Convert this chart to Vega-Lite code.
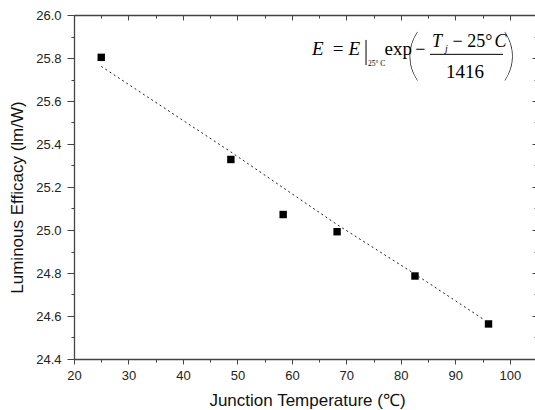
{
  "$schema": "https://vega.github.io/schema/vega-lite/v6.json",
  "width": 463,
  "height": 344,
  "autosize": {"type": "none"},
  "padding": {"left": 74, "top": 15, "right": 0, "bottom": 51},
  "background": "white",
  "datasets": {
    "measured": [
      {"T": 25, "E": 25.803},
      {"T": 48.8, "E": 25.328},
      {"T": 58.4, "E": 25.072},
      {"T": 68.3, "E": 24.992},
      {"T": 82.6, "E": 24.786},
      {"T": 96.1, "E": 24.563}
    ],
    "fit": [
      {"T": 25, "E": 25.761},
      {"T": 48.8, "E": 25.363},
      {"T": 68.3, "E": 25.025},
      {"T": 82.6, "E": 24.795},
      {"T": 95.1, "E": 24.586}
    ],
    "one": [{"k": 1}]
  },
  "config": {
    "view": {"stroke": null},
    "axis": {
      "domainColor": "#444",
      "domainWidth": 1.3,
      "tickColor": "#444",
      "tickWidth": 1,
      "labelFont": "Liberation Sans",
      "labelFontSize": 13,
      "labelColor": "#222",
      "labelFlush": false,
      "labelOverlap": false,
      "titleFont": "Liberation Sans",
      "titleFontSize": 17,
      "titleFontWeight": "normal",
      "titleColor": "#111",
      "grid": false
    },
    "text": {"font": "Liberation Serif", "color": "black"}
  },
  "resolve": {"axis": {"x": "independent", "y": "independent"}},
  "layer": [
    {
      "data": {"name": "measured"},
      "mark": {"type": "point", "shape": "square", "filled": true, "color": "black", "size": 55, "opacity": 1},
      "encoding": {
        "x": {
          "field": "T", "type": "quantitative",
          "scale": {"domain": [20, 105], "nice": false, "zero": false},
          "axis": {
            "orient": "bottom", "values": [20, 30, 40, 50, 60, 70, 80, 90, 100],
            "tickSize": 5, "labelPadding": 5,
            "title": "Junction Temperature (℃)",
            "titleX": 233, "titleY": 41, "titleBaseline": "middle", "titleAlign": "center"
          }
        },
        "y": {
          "field": "E", "type": "quantitative",
          "scale": {"domain": [24.4, 26.0], "nice": false, "zero": false},
          "axis": {
            "orient": "left", "values": [24.4, 24.6, 24.8, 25.0, 25.2, 25.4, 25.6, 25.8, 26.0],
            "format": ".1f", "tickSize": 7, "labelPadding": 6,
            "title": "Luminous Efficacy (lm/W)",
            "titleX": -57, "titleY": 182, "titleBaseline": "middle", "titleAlign": "center", "titleAngle": -90
          }
        }
      }
    },
    {
      "data": {"name": "fit"},
      "mark": {"type": "line", "color": "#222", "strokeWidth": 1, "strokeDash": [2, 3]},
      "encoding": {
        "x": {
          "field": "T", "type": "quantitative",
          "axis": {"orient": "bottom", "values": [25, 35, 45, 55, 65, 75, 85, 95], "tickSize": 3, "labels": false, "domain": false, "title": null}
        },
        "y": {
          "field": "E", "type": "quantitative",
          "axis": {"orient": "left", "values": [24.5, 24.7, 24.9, 25.1, 25.3, 25.5, 25.7, 25.9], "tickSize": 3, "labels": false, "domain": false, "title": null}
        }
      }
    },
    {
      "data": {"name": "one"},
      "mark": {"type": "rule", "color": "black", "strokeWidth": 1},
      "encoding": {
        "x": {"datum": 85.36, "type": "quantitative",
          "axis": {"orient": "top", "values": [20, 30, 40, 50, 60, 70, 80, 90, 100], "tickSize": -5, "labels": false, "domain": true, "title": null}},
        "x2": {"datum": 98.76},
        "y": {"datum": 25.817, "type": "quantitative",
          "axis": {"orient": "right", "values": [24.4, 24.6, 24.8, 25.0, 25.2, 25.4, 25.6, 25.8, 26.0], "tickSize": -5, "labels": false, "domain": true, "title": null}}
      }
    },
    {
      "data": {"name": "one"},
      "mark": {"type": "rule", "color": "black", "strokeWidth": 1},
      "encoding": {
        "x": {"datum": 73.61, "type": "quantitative",
          "axis": {"orient": "top", "values": [25, 35, 45, 55, 65, 75, 85, 95], "tickSize": -3, "labels": false, "domain": false, "title": null}},
        "y": {"datum": 25.884, "type": "quantitative",
          "axis": {"orient": "right", "values": [24.5, 24.7, 24.9, 25.1, 25.3, 25.5, 25.7, 25.9], "tickSize": -3, "labels": false, "domain": false, "title": null}},
        "y2": {"datum": 25.767}
      }
    },
    {
      "data": {"name": "one"},
      "mark": {"type": "text", "text": "E", "fontStyle": "italic", "fontSize": 19, "align": "left", "baseline": "alphabetic"},
      "encoding": {"x": {"datum": 63.69, "type": "quantitative", "axis": null}, "y": {"datum": 25.814, "type": "quantitative", "axis": null}}
    },
    {
      "data": {"name": "one"},
      "mark": {"type": "text", "text": "=", "fontSize": 19, "align": "center", "baseline": "alphabetic"},
      "encoding": {"x": {"datum": 68.47, "type": "quantitative", "axis": null}, "y": {"datum": 25.814, "type": "quantitative", "axis": null}}
    },
    {
      "data": {"name": "one"},
      "mark": {"type": "text", "text": "E", "fontStyle": "italic", "fontSize": 19, "align": "left", "baseline": "alphabetic"},
      "encoding": {"x": {"datum": 70.4, "type": "quantitative", "axis": null}, "y": {"datum": 25.814, "type": "quantitative", "axis": null}}
    },
    {
      "data": {"name": "one"},
      "mark": {"type": "text", "text": "25° C", "fontSize": 7.5, "align": "left", "baseline": "alphabetic"},
      "encoding": {"x": {"datum": 73.97, "type": "quantitative", "axis": null}, "y": {"datum": 25.763, "type": "quantitative", "axis": null}}
    },
    {
      "data": {"name": "one"},
      "mark": {"type": "text", "text": "exp", "fontSize": 19, "align": "left", "baseline": "alphabetic"},
      "encoding": {"x": {"datum": 77.0, "type": "quantitative", "axis": null}, "y": {"datum": 25.814, "type": "quantitative", "axis": null}}
    },
    {
      "data": {"name": "one"},
      "mark": {"type": "text", "text": "(", "font": "Lato Hairline, Lato", "fontWeight": 100, "fontSize": 56, "align": "center", "baseline": "middle"},
      "encoding": {"x": {"datum": 82.25, "type": "quantitative", "axis": null}, "y": {"datum": 25.805, "type": "quantitative", "axis": null}}
    },
    {
      "data": {"name": "one"},
      "mark": {"type": "text", "text": "−", "fontSize": 18, "align": "center", "baseline": "middle"},
      "encoding": {"x": {"datum": 83.6, "type": "quantitative", "axis": null}, "y": {"datum": 25.837, "type": "quantitative", "axis": null}}
    },
    {
      "data": {"name": "one"},
      "mark": {"type": "text", "text": "T", "fontStyle": "italic", "fontSize": 18, "align": "left", "baseline": "alphabetic"},
      "encoding": {"x": {"datum": 85.72, "type": "quantitative", "axis": null}, "y": {"datum": 25.851, "type": "quantitative", "axis": null}}
    },
    {
      "data": {"name": "one"},
      "mark": {"type": "text", "text": "j", "fontStyle": "italic", "fontSize": 10, "align": "left", "baseline": "alphabetic"},
      "encoding": {"x": {"datum": 88.1, "type": "quantitative", "axis": null}, "y": {"datum": 25.826, "type": "quantitative", "axis": null}}
    },
    {
      "data": {"name": "one"},
      "mark": {"type": "text", "text": "− 25°", "fontSize": 18, "align": "left", "baseline": "alphabetic"},
      "encoding": {"x": {"datum": 89.5, "type": "quantitative", "axis": null}, "y": {"datum": 25.851, "type": "quantitative", "axis": null}}
    },
    {
      "data": {"name": "one"},
      "mark": {"type": "text", "text": "C", "fontStyle": "italic", "fontSize": 18, "align": "left", "baseline": "alphabetic"},
      "encoding": {"x": {"datum": 97.2, "type": "quantitative", "axis": null}, "y": {"datum": 25.851, "type": "quantitative", "axis": null}}
    },
    {
      "data": {"name": "one"},
      "mark": {"type": "text", "text": "1416", "fontSize": 19, "align": "center", "baseline": "alphabetic"},
      "encoding": {"x": {"datum": 91.78, "type": "quantitative", "axis": null}, "y": {"datum": 25.706, "type": "quantitative", "axis": null}}
    },
    {
      "data": {"name": "one"},
      "mark": {"type": "text", "text": ")", "font": "Lato Hairline, Lato", "fontWeight": 100, "fontSize": 56, "align": "center", "baseline": "middle"},
      "encoding": {"x": {"datum": 99.9, "type": "quantitative", "axis": null}, "y": {"datum": 25.805, "type": "quantitative", "axis": null}}
    }
  ]
}
